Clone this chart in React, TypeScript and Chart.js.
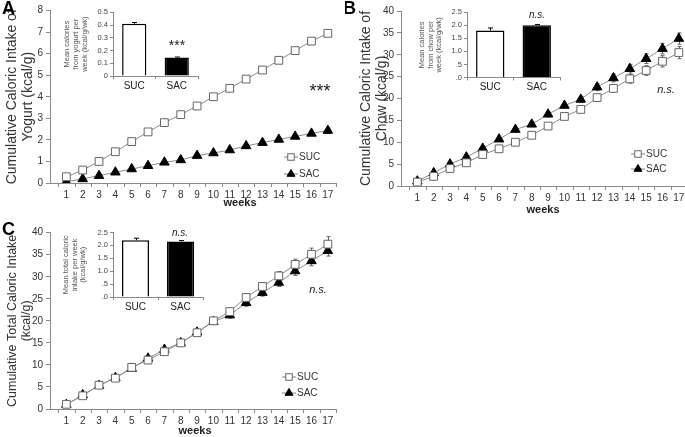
import React, { useEffect, useRef } from "react";
import { Chart, registerables } from "chart.js";

Chart.register(...registerables);

const FONT = "'Liberation Sans', Arial, Helvetica, sans-serif";

// ---------- data ----------
const weeks = [1, 2, 3, 4, 5, 6, 7, 8, 9, 10, 11, 12, 13, 14, 15, 16, 17];
const groups = ["SUC", "SAC"];

const yogurtSUC = [0.29, 0.6, 1.0, 1.45, 1.92, 2.37, 2.8, 3.17, 3.57, 4.0, 4.39, 4.82, 5.24, 5.69, 6.14, 6.58, 6.94];
const yogurtSAC = [0.06, 0.19, 0.34, 0.5, 0.65, 0.8, 0.96, 1.07, 1.27, 1.39, 1.53, 1.72, 1.87, 2.02, 2.16, 2.3, 2.43];
const yogurtSUCErr = [0.02, 0.03, 0.04, 0.05, 0.05, 0.06, 0.06, 0.07, 0.07, 0.08, 0.08, 0.09, 0.1, 0.1, 0.12, 0.13, 0.14];
const yogurtSACErr = [0.01, 0.02, 0.03, 0.03, 0.04, 0.04, 0.05, 0.05, 0.06, 0.06, 0.07, 0.07, 0.08, 0.08, 0.09, 0.1, 0.11];

const chowSUC = [0.9, 2.2, 4.0, 5.3, 7.2, 8.5, 10.0, 11.6, 13.7, 15.9, 17.5, 20.2, 22.3, 24.5, 26.4, 28.5, 30.5];
const chowSAC = [1.1, 3.0, 5.0, 6.6, 8.6, 10.7, 12.9, 14.1, 16.4, 18.4, 19.8, 22.6, 24.7, 26.8, 29.1, 31.4, 33.7];
const chowSUCErr = [0.1, 0.2, 0.3, 0.3, 0.4, 0.5, 0.5, 0.6, 0.6, 0.7, 0.7, 0.8, 0.9, 1.0, 1.1, 1.3, 1.4];
const chowSACErr = [0.1, 0.2, 0.2, 0.3, 0.4, 0.4, 0.5, 0.5, 0.6, 0.6, 0.7, 0.8, 0.9, 1.0, 1.1, 1.2, 1.3];

const totalSUC = [1.06, 3.0, 5.4, 7.0, 9.45, 11.1, 13.0, 15.0, 17.3, 20.0, 22.1, 25.3, 27.8, 30.2, 32.8, 35.1, 37.4];
const totalSAC = [1.0, 3.2, 5.3, 7.1, 9.2, 11.5, 13.5, 15.0, 17.4, 19.8, 21.3, 24.1, 26.4, 28.7, 31.3, 33.6, 35.9];
const totalSUCErr = [0.1, 0.2, 0.3, 0.3, 0.4, 0.5, 0.5, 0.6, 0.6, 0.7, 0.7, 0.8, 0.9, 1.0, 1.2, 1.4, 1.7];
const totalSACErr = [0.1, 0.2, 0.2, 0.3, 0.4, 0.4, 0.5, 0.5, 0.6, 0.6, 0.7, 0.8, 0.8, 0.9, 1.0, 1.1, 1.2];

const yogurtMean = [0.41, 0.145];
const yogurtMeanErr = [0.01, 0.004];
const chowMean = [1.8, 2.0];
const chowMeanErr = [0.1, 0.03];
const totalMean = [2.2, 2.15];
const totalMeanErr = [0.08, 0.04];

const AXIS = "#8a8a8a";
const TXT = "#333";

// ---------- plugins ----------
function drawErr(chart: any) {
  const ctx = chart.ctx;
  chart.data.datasets.forEach((ds: any, i: number) => {
    const errs = ds.errors;
    if (!errs) return;
    const meta = chart.getDatasetMeta(i);
    const ys = chart.scales[meta.yAxisID];
    ctx.save();
    ctx.strokeStyle = ds.errColor || "#555";
    ctx.lineWidth = 1;
    meta.data.forEach((el: any, j: number) => {
      const raw = ds.data[j];
      const v = typeof raw === "number" ? raw : raw.y;
      const e = errs[j];
      if (!e) return;
      const x = Math.round(el.x) + 0.5;
      const top = ys.getPixelForValue(v + e);
      const bot = ds.errUpOnly ? ys.getPixelForValue(v) : ys.getPixelForValue(v - e);
      const cap = ds.errCap ?? 2;
      ctx.beginPath();
      ctx.moveTo(x, bot);
      ctx.lineTo(x, top);
      ctx.moveTo(x - cap, top);
      ctx.lineTo(x + cap, top);
      if (!ds.errUpOnly) {
        ctx.moveTo(x - cap, bot);
        ctx.lineTo(x + cap, bot);
      }
      ctx.stroke();
    });
    ctx.restore();
  });
}

const errorBarPlugin = {
  id: "errbars",
  beforeDatasetsDraw(chart: any) {
    if (chart.config.type === "line") drawErr(chart);
  },
  afterDatasetsDraw(chart: any) {
    if (chart.config.type === "bar") drawErr(chart);
  },
};

type TextItem = {
  text: string;
  x: number;
  y: number;
  size: number;
  weight?: string;
  style?: string;
  align?: CanvasTextAlign;
  baseline?: CanvasTextBaseline;
  color?: string;
};

function textPlugin(items: TextItem[], ox: number, oy: number) {
  return {
    id: "texts",
    afterDraw(chart: any) {
      const ctx = chart.ctx;
      items.forEach((it) => {
        ctx.save();
        ctx.font = `${it.style || "normal"} ${it.weight || "normal"} ${it.size}px ${FONT}`;
        ctx.fillStyle = it.color || TXT;
        ctx.textAlign = it.align || "center";
        ctx.textBaseline = it.baseline || "middle";
        ctx.fillText(it.text, it.x - ox, it.y - oy);
        ctx.restore();
      });
    },
  };
}

function drawMarker(ctx: any, kind: string, x: number, y: number, r: number) {
  ctx.save();
  ctx.lineWidth = 1;
  if (kind === "rect") {
    const s = Math.SQRT1_2 * r;
    ctx.fillStyle = "#fff";
    ctx.strokeStyle = "#666";
    ctx.fillRect(x - s, y - s, 2 * s, 2 * s);
    ctx.strokeRect(x - s, y - s, 2 * s, 2 * s);
  } else {
    ctx.fillStyle = "#000";
    ctx.strokeStyle = "#000";
    ctx.beginPath();
    let rad = 0;
    ctx.moveTo(x + Math.sin(rad) * r, y - Math.cos(rad) * r);
    rad += (2 * Math.PI) / 3;
    ctx.lineTo(x + Math.sin(rad) * r, y - Math.cos(rad) * r);
    rad += (2 * Math.PI) / 3;
    ctx.lineTo(x + Math.sin(rad) * r, y - Math.cos(rad) * r);
    ctx.closePath();
    ctx.fill();
    ctx.stroke();
  }
  ctx.restore();
}

function legendPlugin(mx: number, y1: number, y2: number, ox: number, oy: number) {
  return {
    id: "customLegend",
    afterDraw(chart: any) {
      const ctx = chart.ctx;
      const rows = [
        { label: groups[0], kind: "rect", y: y1 },
        { label: groups[1], kind: "triangle", y: y2 },
      ];
      rows.forEach((r) => {
        const x = mx - ox;
        const y = r.y - oy;
        ctx.save();
        ctx.strokeStyle = "#808080";
        ctx.lineWidth = 1;
        ctx.beginPath();
        ctx.moveTo(x - 7, y);
        ctx.lineTo(x + 7, y);
        ctx.stroke();
        ctx.restore();
        drawMarker(ctx, r.kind, x, y, 4.6);
        ctx.save();
        ctx.font = `10px ${FONT}`;
        ctx.fillStyle = TXT;
        ctx.textAlign = "left";
        ctx.textBaseline = "middle";
        ctx.fillText(r.label, x + 8, y);
        ctx.restore();
      });
    },
  };
}

function xTickPlugin() {
  return {
    id: "xTickMarks",
    afterDraw(chart: any) {
      const ctx = chart.ctx;
      const xs = chart.scales.x;
      const bottom = chart.chartArea.bottom;
      ctx.save();
      ctx.strokeStyle = AXIS;
      ctx.lineWidth = 1;
      ctx.beginPath();
      for (let k = 0; k <= weeks.length; k++) {
        const px = Math.round(xs.getPixelForValue(k + 0.5)) + 0.5;
        ctx.moveTo(px, bottom);
        ctx.lineTo(px, bottom + 4);
      }
      ctx.stroke();
      ctx.restore();
    },
  };
}

// ---------- config builders ----------
type Box = { L: number; T: number; W: number; H: number };

function lineConfig(o: {
  box: Box;
  area: { left: number; right: number; top: number; bottom: number };
  suc: number[];
  sac: number[];
  sucErr: number[];
  sacErr: number[];
  yMax: number;
  yStep: number;
  yTitle: string[];
  titleSize: number;
  titlePad: number;
  texts: TextItem[];
  legend: [number, number, number];
}) {
  const { box, area } = o;
  return {
    type: "line",
    data: {
      datasets: [
        {
          label: groups[0],
          data: weeks.map((w, i) => ({ x: w, y: o.suc[i] })),
          errors: o.sucErr,
          errColor: "#666",
          borderColor: "#8c8c8c",
          borderWidth: 1,
          pointStyle: "rect",
          pointRadius: 5.5,
          pointBackgroundColor: "#fff",
          pointBorderColor: "#666",
          pointBorderWidth: 1,
          tension: 0,
        },
        {
          label: groups[1],
          data: weeks.map((w, i) => ({ x: w, y: o.sac[i] })),
          errors: o.sacErr,
          errColor: "#666",
          borderColor: "#8c8c8c",
          borderWidth: 1,
          pointStyle: "triangle",
          pointRadius: 5.5,
          pointBackgroundColor: "#000",
          pointBorderColor: "#000",
          pointBorderWidth: 1,
          tension: 0,
        },
      ],
    },
    options: {
      responsive: false,
      animation: false,
      events: [],
      layout: {
        padding: {
          left: 0,
          top: area.top - box.T,
          right: box.L + box.W - area.right,
          bottom: 0,
        },
      },
      plugins: { legend: { display: false }, tooltip: { enabled: false } },
      scales: {
        x: {
          type: "linear",
          min: 0,
          max: 17.5,
          afterBuildTicks: (s: any) => {
            s.ticks = weeks.map((v) => ({ value: v }));
          },
          afterFit: (s: any) => {
            s.height = box.T + box.H - area.bottom;
          },
          grid: { drawOnChartArea: false, drawTicks: true, tickLength: 4, color: "rgba(0,0,0,0)" },
          border: { display: true, color: AXIS, width: 1 },
          ticks: {
            font: { family: FONT, size: 10 },
            color: TXT,
            padding: 2,
            autoSkip: false,
            maxRotation: 0,
            callback: (v: any) => String(v),
          },
        },
        y: {
          min: 0,
          max: o.yMax,
          afterFit: (s: any) => {
            s.width = area.left - box.L;
          },
          ticks: { stepSize: o.yStep, font: { family: FONT, size: 10 }, color: TXT, padding: 3 },
          grid: { drawOnChartArea: false, drawTicks: true, tickLength: 4, color: AXIS },
          border: { display: true, color: AXIS, width: 1 },
          title: {
            display: true,
            text: o.yTitle,
            color: TXT,
            font: { family: FONT, size: o.titleSize, lineHeight: 1.15 },
            padding: { top: o.titlePad, bottom: 0 },
          },
        },
      },
    },
    plugins: [
      errorBarPlugin,
      xTickPlugin(),
      textPlugin(o.texts, box.L, box.T),
      legendPlugin(o.legend[0], o.legend[1], o.legend[2], box.L, box.T),
    ],
  };
}

function barConfig(o: {
  box: Box;
  area: { left: number; right: number; top: number; bottom: number };
  values: number[];
  errs: number[];
  yMax: number;
  yStep: number;
  fmt: (v: number) => string;
  yTitle: string[];
  titlePad: number;
  barPct: number;
  texts: TextItem[];
}) {
  const { box, area } = o;
  return {
    type: "bar",
    data: {
      labels: groups,
      datasets: [
        {
          data: o.values,
          errors: o.errs,
          errUpOnly: true,
          errCap: 2.5,
          errColor: "#000",
          backgroundColor: ["#ffffff", "#000000"],
          borderColor: ["#000000", "#000000"],
          borderWidth: 1.5,
          barPercentage: o.barPct,
          categoryPercentage: 1,
        },
      ],
    },
    options: {
      responsive: false,
      animation: false,
      events: [],
      layout: {
        padding: {
          left: 0,
          top: area.top - box.T,
          right: box.L + box.W - area.right,
          bottom: 0,
        },
      },
      plugins: { legend: { display: false }, tooltip: { enabled: false } },
      scales: {
        x: {
          afterFit: (s: any) => {
            s.height = box.T + box.H - area.bottom;
          },
          grid: { drawOnChartArea: false, drawTicks: true, tickLength: 3, color: AXIS, offset: true },
          border: { display: true, color: AXIS, width: 1 },
          ticks: { font: { family: FONT, size: 10 }, color: "#222", padding: 1 },
        },
        y: {
          min: 0,
          max: o.yMax,
          afterFit: (s: any) => {
            s.width = area.left - box.L;
          },
          ticks: {
            stepSize: o.yStep,
            font: { family: FONT, size: 7.5 },
            color: "#444",
            padding: 2,
            callback: (v: any) => o.fmt(Number(v)),
          },
          grid: { drawOnChartArea: false, drawTicks: true, tickLength: 3, color: AXIS },
          border: { display: true, color: AXIS, width: 1 },
          title: {
            display: true,
            text: o.yTitle,
            color: "#555",
            font: { family: FONT, size: 7.5, lineHeight: 1.15 },
            padding: { top: o.titlePad, bottom: 0 },
          },
        },
      },
    },
    plugins: [errorBarPlugin, textPlugin(o.texts, box.L, box.T)],
  };
}

const fmtA = (v: number) => (Math.abs(v) < 1e-9 ? "0" : v.toFixed(1));
const fmtSPSS = (v: number) => {
  const s = v.toFixed(1);
  return s.startsWith("0") ? s.slice(1) : s;
};

// ---------- boxes ----------
const boxA: Box = { L: 0, T: 0, W: 345, H: 215 };
const boxB: Box = { L: 345, T: 0, W: 355, H: 222 };
const boxC: Box = { L: 0, T: 215, W: 345, H: 222 };
const boxIA: Box = { L: 55, T: 0, W: 150, H: 100 };
const boxIB: Box = { L: 400, T: 0, W: 175, H: 100 };
const boxIC: Box = { L: 55, T: 215, W: 160, H: 100 };

const boxes = [boxA, boxB, boxC, boxIA, boxIB, boxIC];

function buildConfigs(): any[] {
  const cA = lineConfig({
    box: boxA,
    area: { left: 50, right: 336, top: 10.5, bottom: 183 },
    suc: yogurtSUC,
    sac: yogurtSAC,
    sucErr: yogurtSUCErr,
    sacErr: yogurtSACErr,
    yMax: 8,
    yStep: 1,
    yTitle: ["Cumulative Caloric Intake of", "Yogurt (kcal/g)"],
    titleSize: 14,
    titlePad: 4,
    texts: [
      { text: "A", x: 2, y: 9, size: 18, weight: "bold", align: "left", color: "#000" },
      { text: "weeks", x: 240, y: 203, size: 11, weight: "bold", color: "#222" },
      { text: "***", x: 320, y: 97, size: 18, baseline: "alphabetic", color: "#222" },
    ],
    legend: [291, 157, 174],
  });
  const cB = lineConfig({
    box: boxB,
    area: { left: 401, right: 687, top: 11, bottom: 186 },
    suc: chowSUC,
    sac: chowSAC,
    sucErr: chowSUCErr,
    sacErr: chowSACErr,
    yMax: 40,
    yStep: 5,
    yTitle: ["Cumulative Caloric Intake of", "Chow (kcal/g)"],
    titleSize: 14,
    titlePad: 13,
    texts: [
      { text: "B", x: 343, y: 9, size: 18, weight: "bold", align: "left", color: "#000" },
      { text: "weeks", x: 543, y: 210, size: 11, weight: "bold", color: "#222" },
      { text: "n.s.", x: 666, y: 90, size: 11, style: "italic", color: "#222" },
    ],
    legend: [638, 154, 169],
  });
  const cC = lineConfig({
    box: boxC,
    area: { left: 50, right: 336, top: 232.7, bottom: 409 },
    suc: totalSUC,
    sac: totalSAC,
    sucErr: totalSUCErr,
    sacErr: totalSACErr,
    yMax: 40,
    yStep: 5,
    yTitle: ["Cumulative Total Caloric Intake", "(kcal/g)"],
    titleSize: 12.5,
    titlePad: 5,
    texts: [
      { text: "C", x: 2, y: 230, size: 18, weight: "bold", align: "left", color: "#000" },
      { text: "weeks", x: 195, y: 431, size: 11, weight: "bold", color: "#222" },
      { text: "n.s.", x: 318, y: 290, size: 11, style: "italic", color: "#222" },
    ],
    legend: [289, 377, 393],
  });
  const cIA = barConfig({
    box: boxIA,
    area: { left: 113, right: 198, top: 12.3, bottom: 76 },
    values: yogurtMean,
    errs: yogurtMeanErr,
    yMax: 0.5,
    yStep: 0.1,
    fmt: fmtA,
    yTitle: ["Mean calories", "from yogurt per", "week (kcal/g/wk)"],
    titlePad: 8,
    barPct: 0.57,
    texts: [{ text: "***", x: 177, y: 50, size: 14, baseline: "alphabetic", color: "#222" }],
  });
  const cIB = barConfig({
    box: boxIB,
    area: { left: 467, right: 560, top: 12.3, bottom: 77.5 },
    values: chowMean,
    errs: chowMeanErr,
    yMax: 2.5,
    yStep: 0.5,
    fmt: fmtSPSS,
    yTitle: ["Mean calories", "from chow per", "week (kcal/g/wk)"],
    titlePad: 17.5,
    barPct: 0.61,
    texts: [{ text: "n.s.", x: 537, y: 15, size: 10, style: "italic", color: "#222" }],
  });
  const cIC = barConfig({
    box: boxIC,
    area: { left: 113, right: 203, top: 232.5, bottom: 297 },
    values: totalMean,
    errs: totalMeanErr,
    yMax: 2.5,
    yStep: 0.5,
    fmt: fmtSPSS,
    yTitle: ["Mean total caloric", "intake per week", "(kcal/g/wk)"],
    titlePad: 6.5,
    barPct: 0.6,
    texts: [{ text: "n.s.", x: 180, y: 233, size: 10, style: "italic", color: "#222" }],
  });
  return [cA, cB, cC, cIA, cIB, cIC];
}

export default function App() {
  const refs = useRef<(HTMLCanvasElement | null)[]>([]);

  useEffect(() => {
    const configs = buildConfigs();
    const charts = configs.map((cfg, i) => new Chart(refs.current[i] as HTMLCanvasElement, cfg));
    return () => charts.forEach((c) => c.destroy());
  }, []);

  return (
    <div
      style={{
        position: "fixed",
        left: 0,
        top: 0,
        width: 685,
        height: 437,
        overflow: "hidden",
        background: "#fff",
      }}
    >
      {boxes.map((b, i) => (
        <canvas
          key={i}
          ref={(el) => {
            refs.current[i] = el;
          }}
          width={b.W}
          height={b.H}
          style={{ position: "absolute", left: b.L, top: b.T, width: b.W, height: b.H }}
        />
      ))}
    </div>
  );
}
